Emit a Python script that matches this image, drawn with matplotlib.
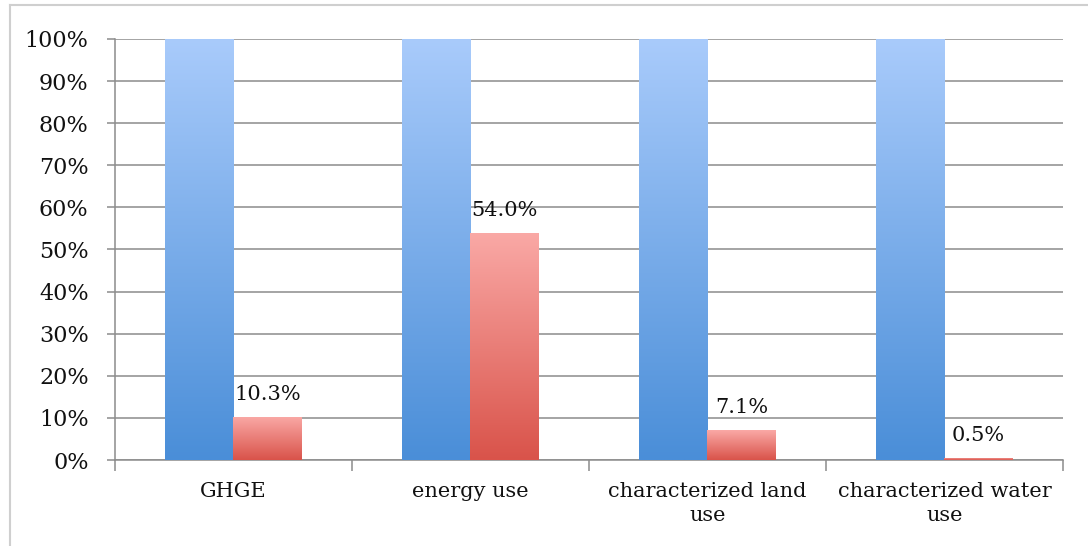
import numpy as np
import matplotlib
matplotlib.use("Agg")
import matplotlib.pyplot as plt
from matplotlib.colors import LinearSegmentedColormap
from matplotlib.lines import Line2D

categories = ["GHGE", "energy use", "characterized land\nuse", "characterized water\nuse"]
baseline_values = [100.0, 100.0, 100.0, 100.0]
share_values = [10.3, 54.0, 7.1, 0.5]
y_ticks = [0, 10, 20, 30, 40, 50, 60, 70, 80, 90, 100]

plt.rcParams["font.family"] = ["DejaVu Serif", "Liberation Serif"]

fig = plt.figure(figsize=(10.88, 5.46), dpi=100)
ax = fig.add_axes([0.1057, 0.1575, 0.8713, 0.7711])

x = np.arange(len(categories))
bar_w = 0.287

blue_cmap = LinearSegmentedColormap.from_list("blue", ["#4a8ed8", "#a9cbfb"])
red_cmap = LinearSegmentedColormap.from_list("red", ["#d9534a", "#faa9a6"])

ax.set_xlim(-0.5, len(categories) - 0.5)
ax.set_ylim(0, 100)

grad = np.linspace(0, 1, 256).reshape(-1, 1)


def gradient_bars(xpos, heights, width, cmap):
    bars = ax.bar(xpos, heights, width=width, align="edge", color="none",
                  edgecolor="none", zorder=3)
    for b in bars:
        x0, y0 = b.get_x(), b.get_y()
        w, h = b.get_width(), b.get_height()
        if h <= 0:
            continue
        xl, xr = min(x0, x0 + w), max(x0, x0 + w)
        # gradient spans the full bar from its base to top
        im = ax.imshow(grad, cmap=cmap, aspect="auto", origin="lower",
                       extent=(xl, xr, y0, y0 + h), zorder=3,
                       interpolation="bilinear")
        im.set_clip_path(b)
    return bars


gradient_bars(x, baseline_values, -bar_w, blue_cmap)
red_bars = gradient_bars(x, share_values, bar_w, red_cmap)

# value labels above the red bars
for xi, v in zip(x, share_values):
    ax.annotate(f"{v:.1f}%", xy=(xi + bar_w / 2, v), xytext=(0, 12),
                textcoords="offset points", ha="center", va="baseline",
                fontsize=15, color="#111111", zorder=5)

ax.set_xlim(-0.5, len(categories) - 0.5)
ax.set_ylim(0, 100)

ax.set_yticks(y_ticks)
ax.set_yticklabels([f"{t}%" for t in y_ticks], fontsize=16, color="#111111")
ax.yaxis.grid(True, color="#8c8c8c", linewidth=1.1, zorder=0)
ax.set_axisbelow(True)
ax.tick_params(axis="y", direction="out", length=6, width=1.1,
               color="#8c8c8c", pad=13)

ax.set_xticks(x)
ax.set_xticklabels(categories, fontsize=15, color="#111111", linespacing=1.3)
ax.set_xticks(np.arange(-0.5, len(categories)), minor=True)
ax.tick_params(axis="x", which="major", length=0, pad=16)
ax.tick_params(axis="x", which="minor", direction="out", length=8,
               width=1.1, color="#8c8c8c")

for side in ["top", "right"]:
    ax.spines[side].set_visible(False)
for side in ["left", "bottom"]:
    ax.spines[side].set_color("#8c8c8c")
    ax.spines[side].set_linewidth(1.1)

# chart frame
fx = 10 / 1088
fy = 1 - 5 / 546
fig.add_artist(Line2D([fx, 1], [fy, fy], transform=fig.transFigure,
                      color="#cfcfcf", linewidth=1.5))
fig.add_artist(Line2D([fx, fx], [0, fy], transform=fig.transFigure,
                      color="#cfcfcf", linewidth=1.5))

fig.savefig("out.png", dpi=100)
